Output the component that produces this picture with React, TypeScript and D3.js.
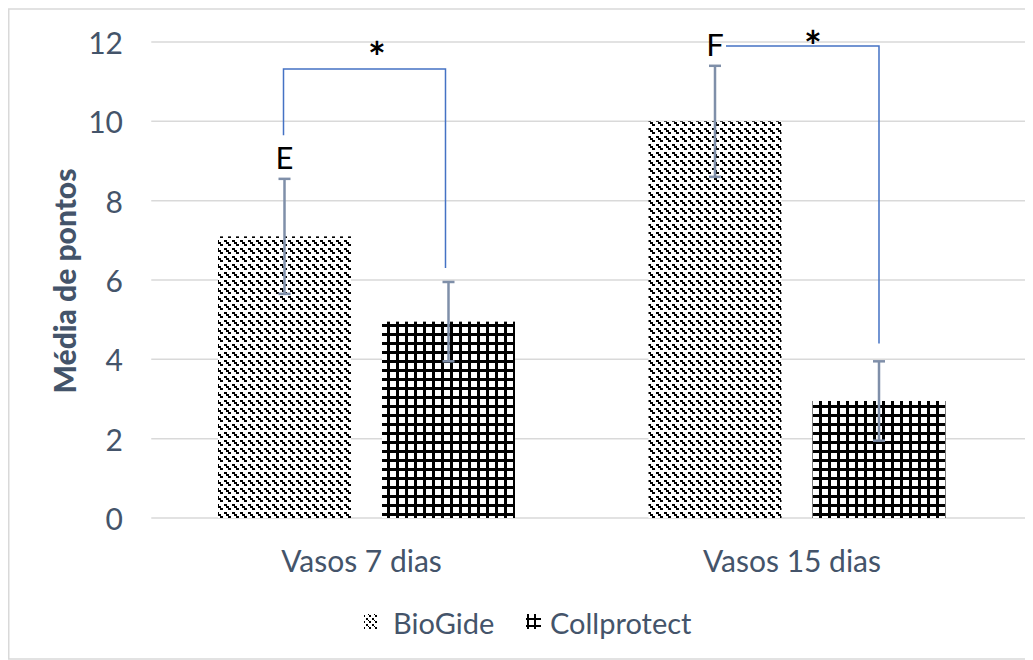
import React from 'react';
import * as d3 from 'd3';

// Grouped bar chart: mean score per group, two membranes, with SD whiskers
const categories = ['Vasos 7 dias', 'Vasos 15 dias'];
const seriesNames = ['BioGide', 'Collprotect'];
const bioGide = [7.1, 10];
const bioGideErr = [1.45, 1.4];
const collprotect = [4.95, 2.95];
const collprotectErr = [1.0, 1.0];
const yTicks = [0, 2, 4, 6, 8, 10, 12];
const groupLetters = ['E', 'F'];
// significance brackets (value units): horizontal level, left drop end, right drop end, star level
const bracketLevels = [11.32, 11.9];
const bracketLeftEnds = [9.65, null];
const bracketRightEnds = [6.3, 4.4];
const starLevels = [11.78, 12.05];

const TEXT = '#44546a';
const FONT = "Lato, 'Open Sans', sans-serif";

// staircase steps of the dashed downward-diagonal hatch (8x8 tile: 3 on, 1 off)
const diagCells: [number, number][] = [
  [0, 0],
  [2, 2],
  [4, 4],
];

export default function App() {
  const W = 1025;
  const H = 652;
  // inner coordinates are expressed in page space (svg sits at the 8px body margin)
  const plotLeft = 151.25;
  const plotRight = 1012.25;
  const x0 = d3.scaleBand<string>().domain(categories).range([plotLeft, plotRight]).padding(0);
  const inset = 66.75;
  const x1 = d3
    .scaleBand<string>()
    .domain(seriesNames)
    .range([inset, x0.bandwidth() - inset])
    .paddingInner(0.189)
    .paddingOuter(0);
  const y = d3.scaleLinear().domain([0, 12]).range([518, 42]);

  const series = [
    { name: 'BioGide', values: bioGide, errs: bioGideErr, fill: 'url(#patDiag)' },
    { name: 'Collprotect', values: collprotect, errs: collprotectErr, fill: 'url(#patGrid)' },
  ];

  const cx = (cat: string, s: string) => (x0(cat) ?? 0) + (x1(s) ?? 0) + x1.bandwidth() / 2;
  const rightShift = [-3, 0];
  const starShift = [12, 16];

  return (
    <svg width={W} height={H} style={{ display: 'block' }}>
      <defs>
        <pattern id="patDiag" patternUnits="userSpaceOnUse" width={8} height={8}>
          <rect width={8} height={8} fill="#fff" />
          <g fill="#000" shapeRendering="crispEdges">
            {diagCells.map(([a, b], k) => (
              <rect key={k} x={a} y={b} width={3} height={2} />
            ))}
          </g>
        </pattern>
        <pattern id="patGrid" patternUnits="userSpaceOnUse" width={9} height={9}>
          <rect width={9} height={9} fill="#fff" />
          <g fill="#000" shapeRendering="crispEdges">
            <rect x={0} y={0} width={3} height={9} />
            <rect x={0} y={0} width={9} height={3} />
          </g>
        </pattern>
        <pattern id="patGridKey" patternUnits="userSpaceOnUse" width={7} height={7} x={2} y={2}>
          <rect width={7} height={7} fill="#fff" />
          <g fill="#000" shapeRendering="crispEdges">
            <rect x={0} y={0} width={2} height={7} />
            <rect x={0} y={0} width={7} height={2} />
          </g>
        </pattern>
        <pattern id="patDiagKey" patternUnits="userSpaceOnUse" width={6} height={6}>
          <rect width={6} height={6} fill="#fff" />
          <g fill="#000" shapeRendering="crispEdges">
            <rect x={0} y={0} width={1.5} height={1.5} />
            <rect x={1.5} y={1.5} width={1.5} height={1.5} />
            <rect x={3} y={3} width={1.5} height={1.5} />
          </g>
        </pattern>
      </defs>
      <rect x={0.75} y={1} width={1023.5} height={650} fill="#fff" stroke="#d9d9d9" strokeWidth={1.5} />
      <g transform="translate(-8,-8)">
        {/* gridlines */}
        {yTicks.map((t) => (
          <line key={'g' + t} x1={plotLeft} x2={1030} y1={y(t)} y2={y(t)} stroke="#d9d9d9" strokeWidth={1.5} />
        ))}
        {/* y tick labels */}
        {yTicks.map((t) => (
          <text
            key={'t' + t}
            x={123}
            y={y(t)}
            textAnchor="end"
            dominantBaseline="central"
            fontFamily={FONT}
            fontSize={30}
            fill={TEXT}
          >
            {t}
          </text>
        ))}
        {/* axis title */}
        <text
          transform={`translate(64,${(170 + 392) / 2}) rotate(-90)`}
          textAnchor="middle"
          dominantBaseline="central"
          fontFamily={FONT}
          fontSize={30}
          fontWeight={900}
          fill={TEXT}
        >
          Média de pontos
        </text>
        {/* bars */}
        {series.map((s) =>
          categories.map((c, i) => (
            <rect
              key={s.name + c}
              x={(x0(c) ?? 0) + (x1(s.name) ?? 0)}
              y={y(s.values[i])}
              width={x1.bandwidth()}
              height={y(0) - y(s.values[i])}
              fill={s.fill}
            />
          ))
        )}
        {/* error bars */}
        {series.map((s) =>
          categories.map((c, i) => {
            const xc = cx(c, s.name);
            const hi = y(s.values[i] + s.errs[i]);
            const lo = y(s.values[i] - s.errs[i]);
            return (
              <g key={'e' + s.name + c} stroke="#7f8fa9" strokeWidth={2.5}>
                <line x1={xc} x2={xc} y1={hi} y2={lo} />
                <line x1={xc - 6} x2={xc + 6} y1={hi} y2={hi} />
                <line x1={xc - 6} x2={xc + 6} y1={lo} y2={lo} />
              </g>
            );
          })
        )}
        {/* group letters */}
        {categories.map((c, i) => (
          <text
            key={'l' + c}
            x={cx(c, 'BioGide')}
            y={y(bioGide[i] + bioGideErr[i]) - 10}
            textAnchor="middle"
            fontFamily={FONT}
            fontSize={31}
            fill="#000"
          >
            {groupLetters[i]}
          </text>
        ))}
        {/* significance brackets */}
        {categories.map((c, i) => {
          const xl = cx(c, 'BioGide');
          const xr = cx(c, 'Collprotect') + rightShift[i];
          const yl = y(bracketLevels[i]);
          const left = bracketLeftEnds[i];
          const startX = left === null ? xl + 11 : xl - 1;
          const pts: [number, number][] =
            left === null
              ? [
                  [startX, yl],
                  [xr, yl],
                  [xr, y(bracketRightEnds[i])],
                ]
              : [
                  [startX, y(left)],
                  [startX, yl],
                  [xr, yl],
                  [xr, y(bracketRightEnds[i])],
                ];
          const line = d3.line();
          const mid = (xl + xr) / 2 + starShift[i];
          return (
            <g key={'b' + c}>
              <path d={line(pts) ?? ''} fill="none" stroke="#4472c4" strokeWidth={1.5} />
              <text
                x={mid}
                y={y(starLevels[i]) + 22}
                textAnchor="middle"
                fontFamily={FONT}
                fontSize={42}
                fontWeight={700}
                fill="#000"
              >
                *
              </text>
            </g>
          );
        })}
        {/* category labels */}
        {categories.map((c) => (
          <text
            key={'c' + c}
            x={(x0(c) ?? 0) + x0.bandwidth() / 2 - 5}
            y={560}
            textAnchor="middle"
            dominantBaseline="central"
            fontFamily={FONT}
            fontSize={30}
            fill={TEXT}
          >
            {c}
          </text>
        ))}
        {/* legend */}
        <g>
          <rect x={364} y={614} width={14} height={15} fill="url(#patDiagKey)" />
          <text x={393} y={622} dominantBaseline="central" fontFamily={FONT} fontSize={29} fill={TEXT}>
            {seriesNames[0]}
          </text>
          <rect x={526} y={614} width={15} height={15} fill="url(#patGridKey)" />
          <text x={550} y={622} dominantBaseline="central" fontFamily={FONT} fontSize={29} fill={TEXT}>
            {seriesNames[1]}
          </text>
        </g>
      </g>
    </svg>
  );
}
